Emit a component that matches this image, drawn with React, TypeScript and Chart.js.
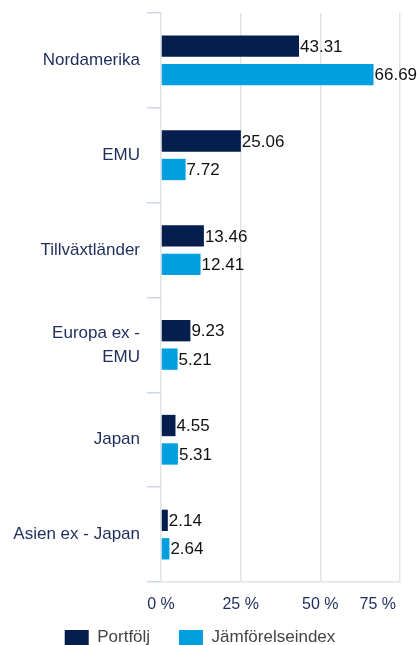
import React, { useEffect, useRef } from "react";
import { Chart, registerables } from "chart.js";

Chart.register(...registerables);

const categories: (string | string[])[] = [
  "Nordamerika",
  "EMU",
  "Tillväxtländer",
  ["Europa ex -", "EMU"],
  "Japan",
  "Asien ex - Japan",
];
const portfolio = [43.31, 25.06, 13.46, 9.23, 4.55, 2.14];
const benchmark = [66.69, 7.72, 12.41, 5.21, 5.31, 2.64];
const seriesNames = ["Portfölj", "Jämförelseindex"];
const xTicks = [0, 25, 50, 75];

const FONT = "'Liberation Sans', Arial, Helvetica, sans-serif";

const valueLabels = {
  id: "valueLabels",
  afterDatasetsDraw(chart: any) {
    const ctx = chart.ctx;
    ctx.save();
    ctx.font = `17px ${FONT}`;
    ctx.fillStyle = "#111111";
    ctx.textAlign = "left";
    ctx.textBaseline = "middle";
    chart.data.datasets.forEach((ds: any, di: number) => {
      const meta = chart.getDatasetMeta(di);
      meta.data.forEach((bar: any, i: number) => {
        ctx.fillText(ds.data[i].toFixed(2), bar.x + 1, bar.y + 1);
      });
    });
    ctx.restore();
  },
};

export default function App() {
  const ref = useRef<HTMLCanvasElement>(null);
  useEffect(() => {
    if (!ref.current) return;
    Chart.defaults.font.family = FONT;
    const chart = new Chart(ref.current, {
      type: "bar",
      data: {
        labels: categories,
        datasets: [
          {
            label: seriesNames[0],
            data: portfolio,
            backgroundColor: "#041e4d",
            borderWidth: 0,
            categoryPercentage: 0.6,
            barPercentage: 0.75,
          },
          {
            label: seriesNames[1],
            data: benchmark,
            backgroundColor: "#009fdf",
            borderWidth: 0,
            categoryPercentage: 0.6,
            barPercentage: 0.75,
          },
        ],
      },
      options: {
        indexAxis: "y",
        animation: false,
        responsive: false,
        maintainAspectRatio: false,
        layout: { padding: { top: 13, right: 17, left: 0, bottom: 0 } },
        plugins: {
          tooltip: { enabled: false },
          legend: {
            position: "bottom",
            labels: {
              boxWidth: 24,
              boxHeight: 15,
              padding: 10,
              color: "#444444",
              font: { size: 17, family: FONT },
              generateLabels: (chart: any) => {
                const items = Chart.defaults.plugins.legend.labels.generateLabels(chart);
                items.forEach((it: any, i: number) => {
                  if (i === 0) it.text = it.text + "    ";
                  it.lineWidth = 0;
                });
                return items;
              },
            },
          },
        },
        scales: {
          x: {
            min: 0,
            max: 75,
            afterBuildTicks: (s: any) => {
              s.ticks = xTicks.map((v) => ({ value: v }));
            },
            afterFit: (s: any) => {
              s.paddingRight = 0;
              s.paddingLeft = 0;
              s.height = 37;
            },
            grid: {
              color: "#e3e3e3",
              lineWidth: 1.5,
              drawTicks: false,
            },
            border: { display: true, color: "#e3e3e3", width: 1.5 },
            ticks: {
              padding: 13,
              maxRotation: 0,
              minRotation: 0,
              autoSkip: false,
              color: "#1d2d5c",
              font: { size: 16, family: FONT },
              callback: (v: any) =>
                Number(v) === 75 ? "75 %          " : `${v} %`,
            },
          },
          y: {
            afterFit: (s: any) => {
              s.width = 161;
              s.paddingTop = 0;
              s.paddingBottom = 0;
            },
            grid: {
              offset: true,
              drawOnChartArea: false,
              drawTicks: true,
              tickLength: 14,
              color: "#ccd6eb",
              lineWidth: 1.5,
            },
            border: { display: false },
            ticks: {
              padding: 7,
              color: "#1d2d5c",
              font: { size: 17, family: FONT, lineHeight: 1.4 },
            },
          },
        },
      },
      plugins: [valueLabels],
    });
    return () => chart.destroy();
  }, []);
  return (
    <div style={{ position: "fixed", left: 0, top: 0, width: 417, height: 656 }}>
      <canvas ref={ref} width={417} height={656} style={{ width: 417, height: 656 }} />
    </div>
  );
}
